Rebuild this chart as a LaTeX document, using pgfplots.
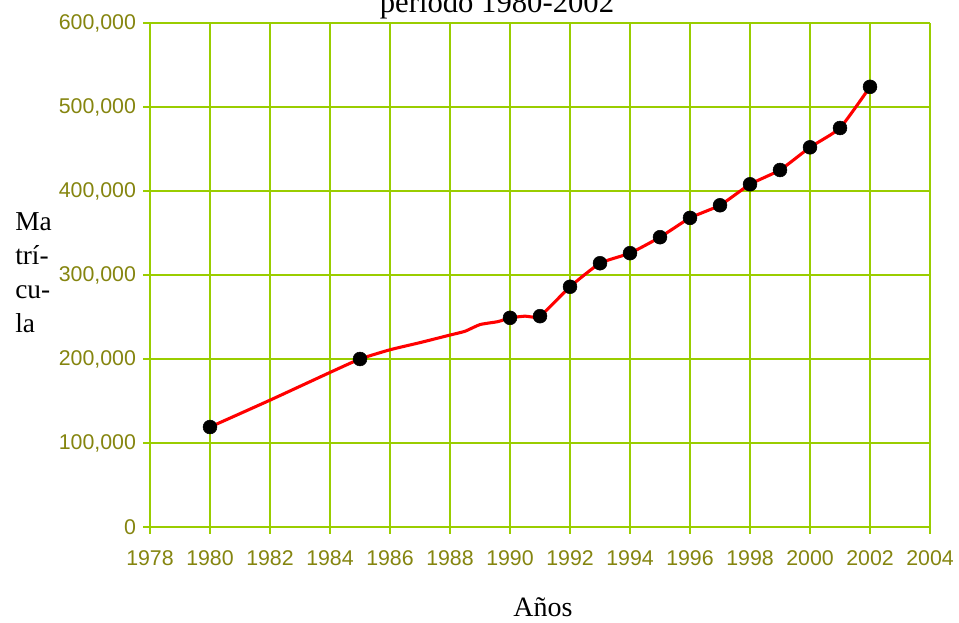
\documentclass[border=0pt]{standalone}
\usepackage{pgfplots}
\pgfplotsset{compat=1.18}
\usepackage{fontspec}
\setmainfont{Liberation Serif}
\newfontfamily\arial{Liberation Sans}
\definecolor{gridgreen}{HTML}{9ACD00}
\definecolor{ticklbl}{HTML}{85850F}

\begin{document}
\begin{tikzpicture}
% fixed page: 959x623 px at 0.75pt/px, origin at the plot's lower-left corner
\useasboundingbox (-112.5pt,-72pt) rectangle (606.75pt,395.25pt);
\begin{axis}[
    scale only axis,
    width=585pt, height=378pt,
    xmin=1978, xmax=2004,
    ymin=0, ymax=600000,
    xtick={1978,1980,...,2004},
    xticklabels={1978,1980,1982,1984,1986,1988,1990,1992,1994,1996,1998,2000,2002,2004},
    ytick={0,100000,...,600000},
    yticklabels={0,{100,000},{200,000},{300,000},{400,000},{500,000},{600,000}},
    grid=major,
    grid style={gridgreen, line width=1.1pt},
    axis line style={gridgreen, line width=1.3pt},
    axis x line*=bottom, axis y line*=left,
    tick style={gridgreen, line width=1.1pt},
    tick align=outside,
    major tick length=5pt,
    ticklabel style={font=\arial\fontsize{16}{19}\selectfont, text=ticklbl},
    x tick label style={yshift=-9pt},
    y tick label style={xshift=-2pt},
    scaled y ticks=false,
    clip=false,
]
% red curve (incl. intermediate points)
\addplot[red, line width=2.3pt, smooth, tension=0.3] coordinates {
    (1980,119000) (1982,151000) (1984,184000) (1985,200000)
    (1986,211000) (1987,219500) (1988,228500) (1988.5,233000)
    (1989,241000) (1989.6,244500) (1990,249000) (1990.5,251000)
    (1991,251000) (1992,286000) (1993,314000) (1994,326000)
    (1995,345000) (1996,368000) (1997,383000) (1998,408000)
    (1999,425000) (2000,452000) (2001,475000) (2002,524000)
};
% marked years
\addplot[only marks, mark=*, mark size=5.2pt, black] coordinates {
    (1980,119000) (1985,200000) (1990,249000) (1991,251000)
    (1992,286000) (1993,314000) (1994,326000) (1995,345000)
    (1996,368000) (1997,383000) (1998,408000) (1999,425000)
    (2000,452000) (2001,475000) (2002,524000)
};
\end{axis}
\node[anchor=base, font=\fontsize{23}{27}\selectfont] at (260.25pt,385.7pt) {periodo 1980-2002};
\node[anchor=base, font=\fontsize{21}{25}\selectfont] at (294.75pt,-67.5pt) {Años};
\node[anchor=base west, align=left, inner sep=0pt, font=\fontsize{20.5}{25.5}\selectfont] at (-101.25pt,145.5pt) {Ma\\trí-\\cu-\\la};
\end{tikzpicture}
\end{document}
